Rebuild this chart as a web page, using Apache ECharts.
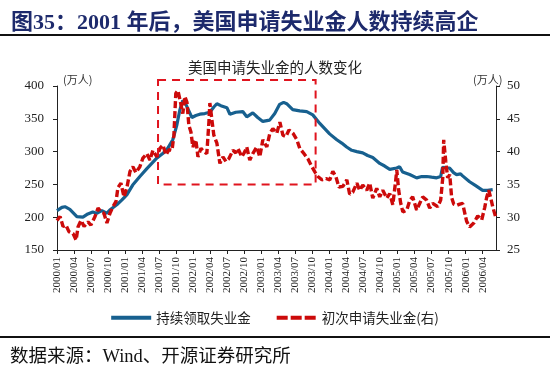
<!DOCTYPE html>
<html><head><meta charset="utf-8">
<script src="https://cdn.jsdelivr.net/npm/echarts@6/dist/echarts.min.js"></script>
<style>html,body{margin:0;padding:0;background:#fff;}#c{width:550px;height:367px;}</style>
</head><body><div id="c"></div>
<script>
// ---- Data ----
const mainTitle = '图35：2001 年后，美国申请失业金人数持续高企';
const chartTitle = '美国申请失业金的人数变化';
const sourceText = '数据来源：Wind、开源证券研究所';
const unitText = '(万人)';
const seriesNames = ['持续领取失业金', '初次申请失业金(右)'];

const blueDates = ['2000-01-01','2000-01-27','2000-02-13','2000-03-09','2000-04-16','2000-05-18','2000-06-14','2000-07-10','2000-08-01','2000-08-28','2000-09-24','2000-10-10','2000-11-17','2000-12-13',
'2001-01-10','2001-02-11','2001-03-19','2001-04-26','2001-05-22','2001-06-18','2001-07-20','2001-08-16','2001-09-13','2001-10-04','2001-10-20','2001-11-06','2001-11-22','2001-12-08','2001-12-24',
'2002-01-15','2002-02-06','2002-03-02','2002-03-29','2002-04-20','2002-05-06','2002-05-27','2002-06-29','2002-07-15','2002-08-16','2002-09-23','2002-10-14','2002-11-16','2002-12-12',
'2003-01-09','2003-02-15','2003-03-12','2003-04-08','2003-04-29','2003-05-15','2003-06-17','2003-07-24','2003-09-01','2003-10-03','2003-11-10','2003-12-06',
'2004-01-02','2004-02-10','2004-03-06','2004-04-02','2004-04-29','2004-05-26','2004-06-27','2004-07-23','2004-08-20','2004-09-27','2004-10-23','2004-11-20','2004-12-27',
'2005-01-12','2005-01-28','2005-03-05','2005-04-12','2005-05-09','2005-06-05','2005-07-01','2005-07-28','2005-08-19','2005-08-29','2005-09-20','2005-10-06','2005-10-27','2005-11-13','2005-12-04','2005-12-15',
'2006-01-22','2006-02-24','2006-04-01','2006-04-27','2006-05-24'];
const blueValues = [210,215,216,212,201,200,205,208,206,210,206,211,219,226,
234,249,262,274,282,290,297,305,318,340,363,378,372,362,352,
355,357,358,360,368,373,370,367,357,360,361,353,359,352,
346,348,358,372,375,373,364,362,361,356,343,335,
327,318,313,307,302,300,298,294,291,282,278,273,275,
277,269,265,260,262,262,261,260,262,276,275,275,268,265,266,263,
254,248,241,241,242];

const redDates = ['2000-01-01','2000-01-17','2000-02-03','2000-02-18','2000-03-04','2000-03-26','2000-04-12','2000-04-22','2000-05-08','2000-05-24','2000-06-15','2000-06-30','2000-07-22','2000-08-08','2000-08-24','2000-09-09','2000-09-25','2000-10-11','2000-10-27','2000-11-13','2000-11-23','2000-12-09','2000-12-25',
'2001-01-11','2001-01-27','2001-02-12','2001-02-28','2001-03-19','2001-04-05','2001-04-26','2001-05-12','2001-05-28','2001-06-19','2001-07-05','2001-07-21','2001-08-07','2001-08-23','2001-09-09','2001-09-19','2001-09-29','2001-10-10','2001-10-21','2001-11-06','2001-11-17','2001-11-28','2001-12-08','2001-12-19','2001-12-29',
'2002-01-15','2002-01-26','2002-02-12','2002-02-27','2002-03-13','2002-03-24','2002-03-29','2002-04-10','2002-04-20','2002-05-06','2002-05-22','2002-06-08','2002-06-24','2002-07-09','2002-07-31','2002-08-16','2002-08-27','2002-09-18','2002-10-04','2002-10-14','2002-10-30','2002-11-16','2002-12-07','2002-12-23',
'2003-01-09','2003-01-30','2003-02-16','2003-03-02','2003-03-23','2003-04-09','2003-04-25','2003-05-11','2003-05-27','2003-06-18','2003-07-09','2003-07-24','2003-08-16','2003-09-07','2003-09-28','2003-10-14','2003-10-30','2003-11-21','2003-12-12',
'2004-01-03','2004-01-19','2004-02-05','2004-02-21','2004-03-12','2004-04-03','2004-04-18','2004-05-04','2004-05-26','2004-06-11','2004-06-27','2004-07-18','2004-08-04','2004-08-20','2004-09-11','2004-09-27','2004-10-13','2004-11-04','2004-11-20','2004-12-06','2004-12-21','2004-12-27',
'2005-01-07','2005-01-18','2005-01-29','2005-02-20','2005-03-06','2005-03-21','2005-04-12','2005-04-28','2005-05-14','2005-06-05','2005-06-21','2005-07-07','2005-08-03','2005-08-19','2005-08-30','2005-09-05','2005-09-16','2005-09-26','2005-10-07','2005-10-17','2005-10-28','2005-11-14','2005-11-30','2005-12-15',
'2006-01-06','2006-01-22','2006-02-14','2006-03-05','2006-03-26','2006-04-12','2006-04-22','2006-05-03','2006-05-13','2006-05-24','2006-06-10'];
const redValues = [29.5,30.1,28.6,28.8,27.8,27.5,26.5,28.5,29.5,28.6,29.3,28.8,30.1,31.4,30.8,30.6,29.1,30.6,31.6,32.4,34.5,35.2,33.1,
34.6,37.0,37.7,36.8,37.7,39.0,39.7,38.7,40.2,39.2,40.5,41.0,39.5,40.3,40.2,42.5,48.9,49.3,47.9,45.8,48.4,47.5,44.0,43.0,40.7,
41.8,39.2,40.5,40.0,39.7,44.5,47.4,44.8,42.5,41.3,38.2,39.2,38.5,38.9,40.2,39.8,40.5,39.2,40.0,40.7,38.7,39.7,40.7,39.2,
41.8,40.7,42.8,43.5,42.8,44.5,42.5,42.3,43.3,42.8,41.8,40.5,39.7,38.9,37.7,36.9,36.2,35.7,35.9,
35.7,37.0,36.2,34.6,34.7,35.7,33.5,33.8,35.2,34.1,34.9,34.1,35.2,32.9,34.4,33.1,34.1,32.9,33.6,31.9,35.5,37.2,
34.1,32.1,30.8,31.1,32.6,33.1,31.1,32.1,33.1,32.6,31.4,32.1,31.6,32.6,36.0,41.8,38.5,36.0,36.5,33.0,32.0,31.8,32.0,32.1,
29.4,28.5,29.1,30.2,29.6,31.5,33.0,34.1,33.0,31.6,30.0];

const xStart = '2000-01-01';
const xEnd = '2006-06-10';
const tickMonths = 3;
const leftMin = 150, leftMax = 400, leftStep = 50;
const rightMin = 25, rightMax = 50, rightStep = 5;
const boxRange = { from: '2001-06-25', to: '2003-10-18', low: 250 };

// ---- helpers ----
function monthIndex(s) {
  const p = s.split('-').map(Number);
  return (p[0] - 2000) * 12 + (p[1] - 1) + (p[2] - 1) / 30;
}
function monthLabel(v) {
  const r = Math.round(v);
  if (Math.abs(v - r) > 1e-6 || r % tickMonths !== 0) return '';
  const y = 2000 + Math.floor(r / 12);
  const m = r % 12 + 1;
  return y + '/' + (m < 10 ? '0' + m : m);
}

const blueData = blueDates.map((d, i) => [monthIndex(d), blueValues[i]]);
const redData = redDates.map((d, i) => [monthIndex(d), redValues[i]]);

const BLUE = '#17608f';
const RED = '#cc0a0a';
const SERIF = '"Liberation Serif", "Times New Roman", serif';
const CJK = '"Noto Sans CJK SC", sans-serif';
const MIXED = '"Liberation Serif", "Noto Sans CJK SC", serif';

const chart = echarts.init(document.getElementById('c'), null, { renderer: 'canvas' });

const GRID = { left: 57, top: 86, width: 439, height: 164 };
const rules = [
  { type: 'line', shape: { x1: 0, y1: 35, x2: 550, y2: 35 }, style: { stroke: '#111', lineWidth: 2 } },
  { type: 'line', shape: { x1: 0, y1: 337, x2: 550, y2: 337 }, style: { stroke: '#111', lineWidth: 2 } }
];

chart.setOption({
  animation: false,
  backgroundColor: '#fff',
  title: [
    { text: mainTitle, left: 6, top: 7,
      textStyle: { fontSize: 22, fontWeight: 'bold', color: '#1d2a6c', fontFamily: MIXED } },
    { text: chartTitle, left: 270, textAlign: 'center', top: 55,
      textStyle: { fontSize: 14.5, fontWeight: 'normal', color: '#222', fontFamily: CJK } },
    { text: unitText, left: 58, top: 69,
      textStyle: { fontSize: 11, fontWeight: 'normal', color: '#333', fontFamily: CJK } },
    { text: unitText, left: 468, top: 69,
      textStyle: { fontSize: 11, fontWeight: 'normal', color: '#333', fontFamily: CJK } },
    { text: sourceText, left: 5, top: 343,
      textStyle: { fontSize: 18.5, fontWeight: 'normal', color: '#111', fontFamily: MIXED } }
  ],
  grid: { left: GRID.left, top: GRID.top, width: GRID.width, height: GRID.height, containLabel: false, outerBoundsMode: 'none' },
  legend: {
    top: 306, left: 'center',
    itemWidth: 40, itemHeight: 4, itemGap: 26,
    textStyle: { fontSize: 13.5, color: '#222', fontFamily: CJK },
    data: [
      { name: seriesNames[0], icon: 'path://M0,0H40V4H0Z' },
      { name: seriesNames[1], icon: 'path://M0,0H11V4H0Z M14,0H25V4H14Z M28,0H39V4H28Z M39,0H40V0H39Z' }
    ]
  },
  xAxis: {
    type: 'value',
    min: monthIndex(xStart), max: monthIndex(xEnd) + 0.05, interval: tickMonths,
    splitLine: { show: false },
    axisLine: { show: true, lineStyle: { color: '#222', width: 1 } },
    axisTick: { show: true, length: 4, lineStyle: { color: '#222' } },
    axisLabel: { rotate: 90, margin: 7, fontSize: 11, color: '#222', fontFamily: SERIF,
      formatter: monthLabel, showMaxLabel: false }
  },
  yAxis: [
    { type: 'value', min: leftMin, max: leftMax, interval: leftStep,
      splitLine: { show: false },
      axisLine: { show: true, lineStyle: { color: '#222', width: 1 } },
      axisTick: { show: true, length: 4, lineStyle: { color: '#222' } },
      axisLabel: { margin: 13, fontSize: 13, color: '#222', fontFamily: SERIF } },
    { type: 'value', min: rightMin, max: rightMax, interval: rightStep, position: 'right',
      splitLine: { show: false },
      axisLine: { show: true, lineStyle: { color: '#222', width: 1 } },
      axisTick: { show: true, length: 4, lineStyle: { color: '#222' } },
      axisLabel: { margin: 11, fontSize: 13, color: '#222', fontFamily: SERIF } }
  ],
  series: [
    { name: seriesNames[0], type: 'line', yAxisIndex: 0, data: blueData,
      showSymbol: false, symbol: 'none', clip: true,
      lineStyle: { color: BLUE, width: 3.2 }, itemStyle: { color: BLUE } },
    { name: seriesNames[1], type: 'line', yAxisIndex: 1, data: redData,
      showSymbol: false, symbol: 'none', clip: true,
      lineStyle: { color: RED, width: 3.4, type: [7, 3] }, itemStyle: { color: RED } }
  ],
  graphic: rules
});

// Dashed highlight box, placed with the chart's own scales
const pA = chart.convertToPixel({ xAxisIndex: 0, yAxisIndex: 0 }, [monthIndex(boxRange.from), boxRange.low]);
const pB = chart.convertToPixel({ xAxisIndex: 0, yAxisIndex: 0 }, [monthIndex(boxRange.to), boxRange.low]);
const boxTop = GRID.top - 6;
chart.setOption({
  graphic: rules.concat([
    { type: 'rect', z: 10,
      shape: { x: pA[0], y: boxTop, width: pB[0] - pA[0], height: pA[1] - boxTop },
      style: { fill: 'none', stroke: '#e0141e', lineWidth: 2, lineDash: [8, 6] } }
  ])
});
</script></body></html>
